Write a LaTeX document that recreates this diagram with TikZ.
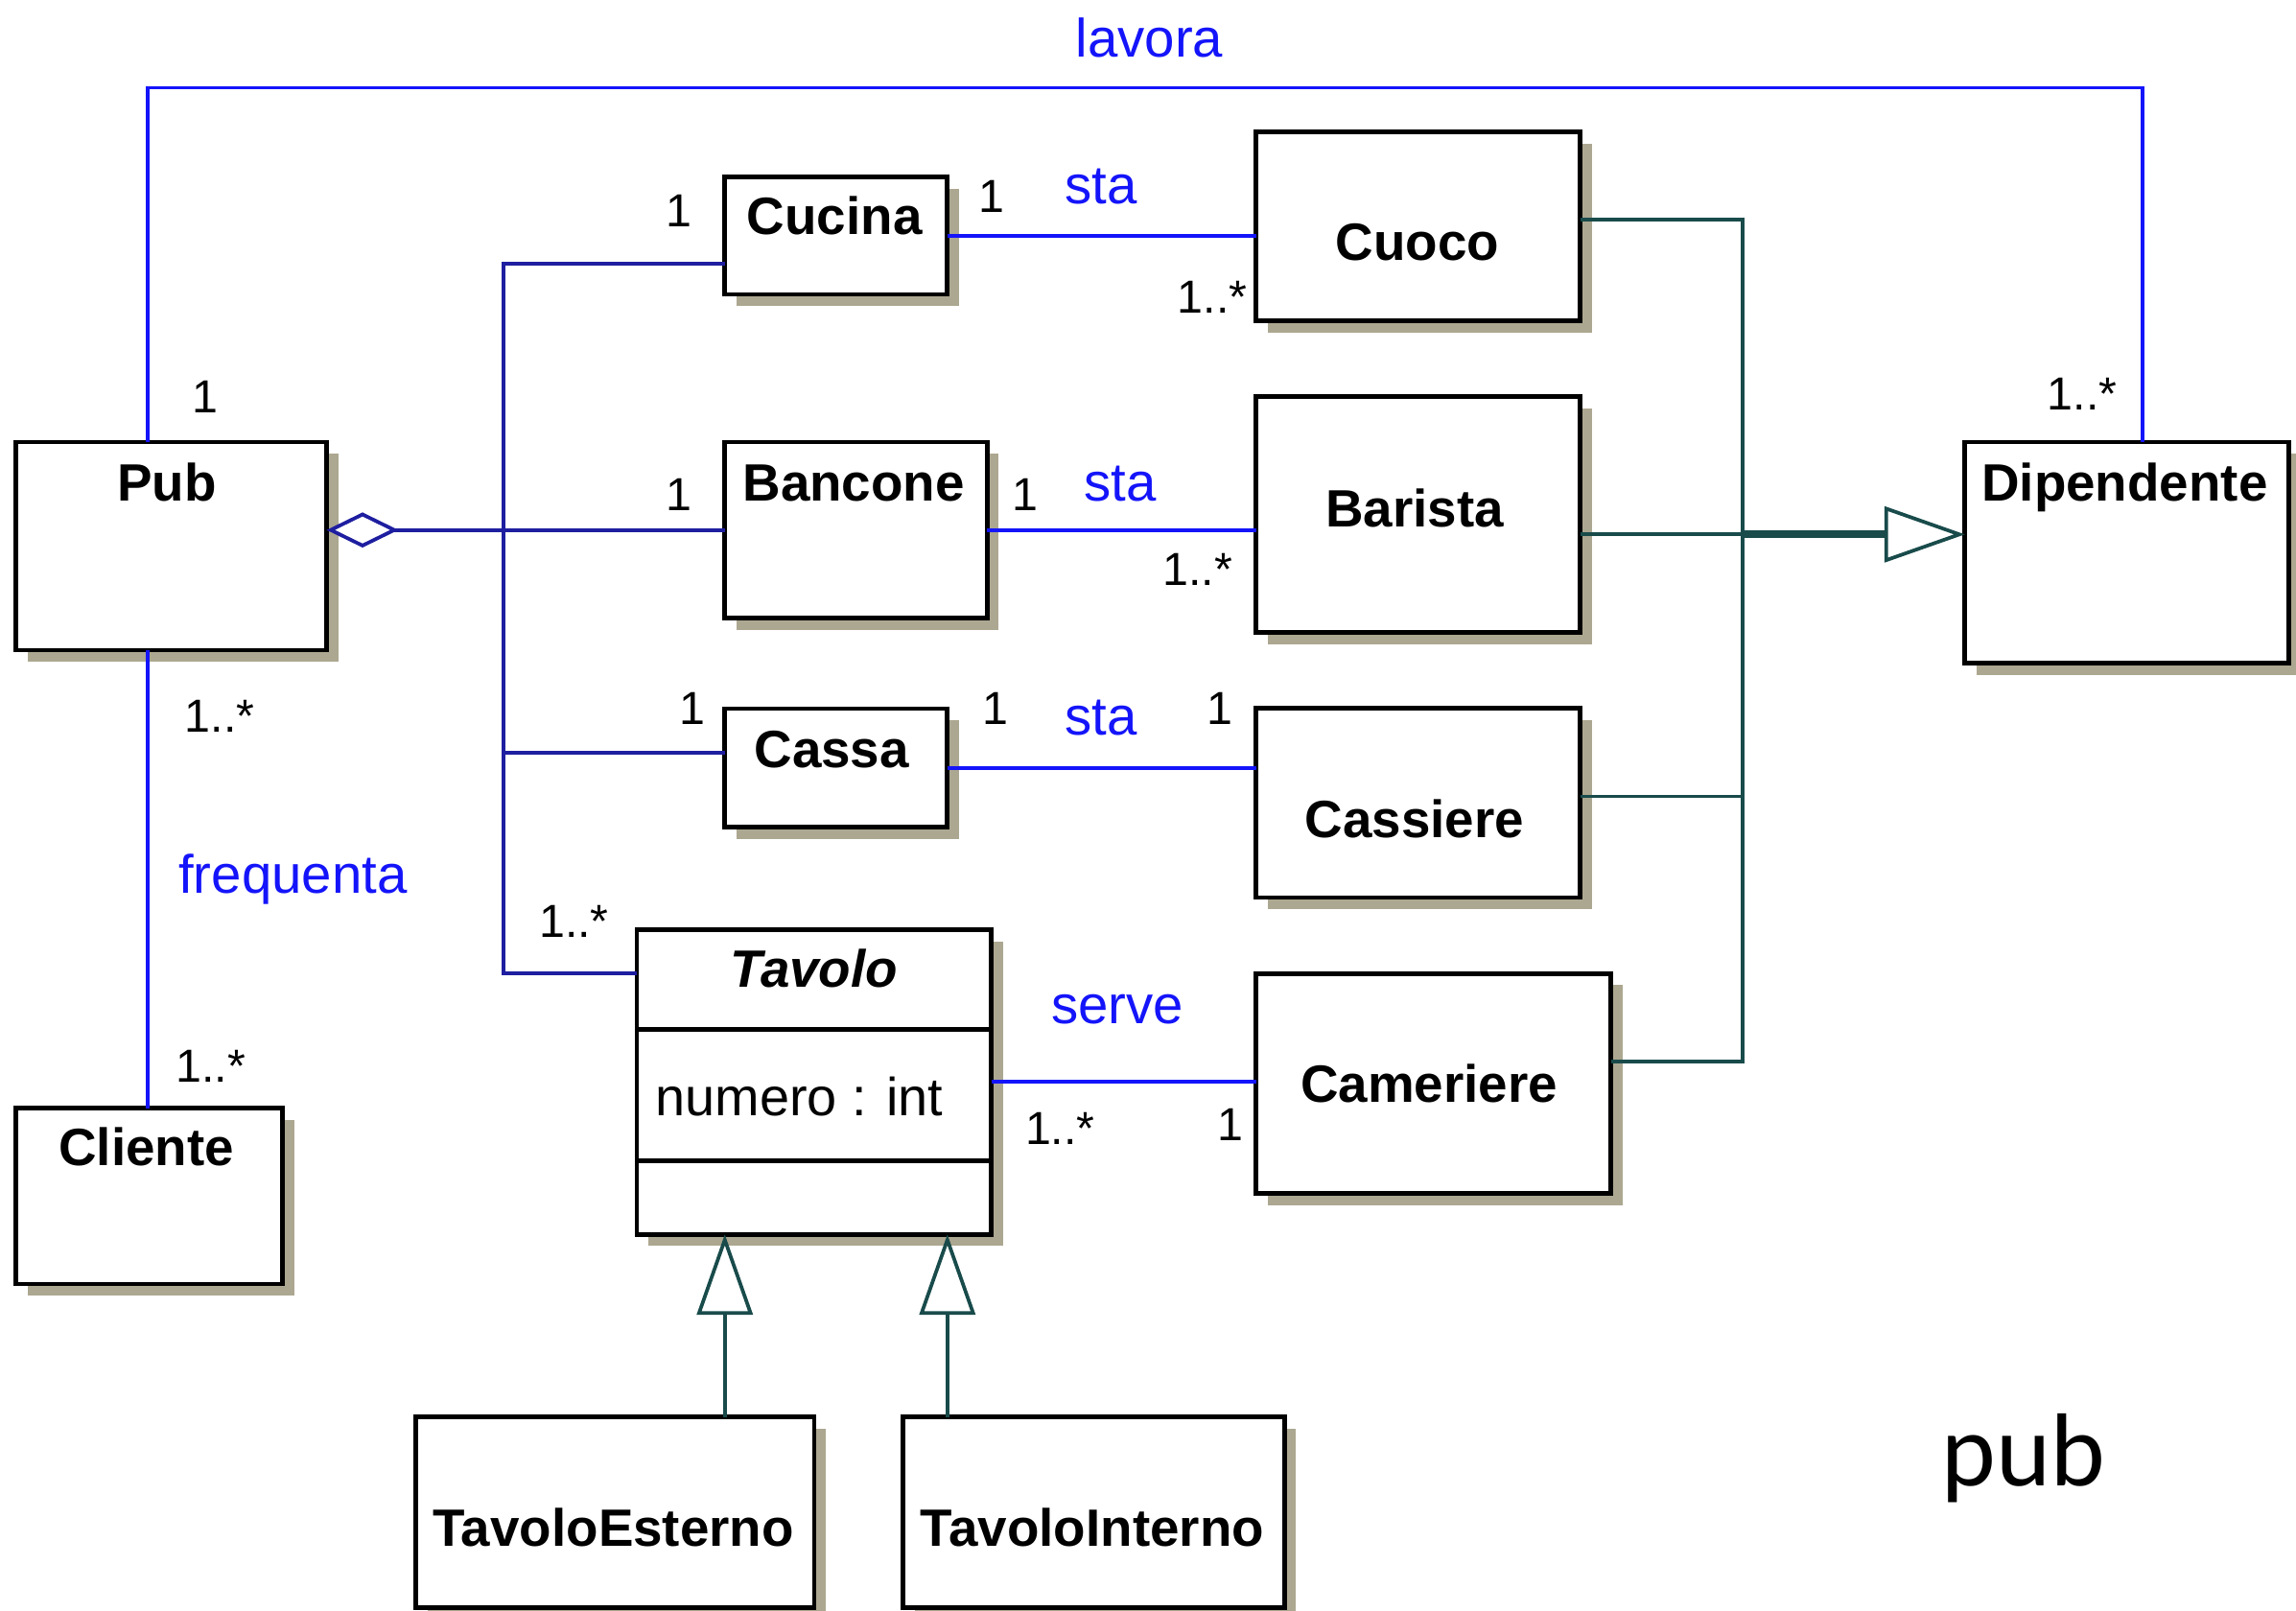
\documentclass[tikz,border=0pt]{standalone}
\usepackage{fontspec}
\setmainfont{Liberation Sans}
\newfontfamily\pubfont{Lato}
\usetikzlibrary{arrows.meta,shadows}
\definecolor{assocblue}{RGB}{20,20,250}
\definecolor{aggblue}{RGB}{30,30,160}
\definecolor{gencol}{RGB}{25,75,75}
\definecolor{shadowtan}{RGB}{172,167,144}
\begin{document}
\begin{tikzpicture}[x=0.01cm,y=-0.01cm,
  cls/.style={draw=black, line width=0.9pt, fill=white, inner sep=0pt, outer sep=0pt,
    drop shadow={shadow xshift=0.08cm, shadow yshift=-0.08cm, fill=shadowtan, opacity=1}},
  agg/.style={draw=aggblue, line width=0.7pt},
  assoc/.style={draw=assocblue, line width=0.7pt},
  gen/.style={draw=gencol, line width=0.7pt},
  gentip/.style={-{Triangle[open, fill=white, length=0.55cm, width=0.38cm, line width=0.7pt]}},
  cname/.style={font=\fontsize{10.2}{12}\selectfont\bfseries, anchor=base, inner sep=0pt},
  attr/.style={font=\fontsize{10.4}{12}\selectfont, anchor=base west, inner sep=0pt},
  mult/.style={font=\fontsize{9}{10}\selectfont, anchor=base, inner sep=0pt},
  alab/.style={font=\fontsize{10.5}{12}\selectfont, text=assocblue, anchor=base, inner sep=0pt}
]
\useasboundingbox (0,0) rectangle (1568,1100);

% class boxes
\node[cls, minimum width=2.12cm, minimum height=1.42cm] (pub) at (117,373) {};
\node[cls, minimum width=1.52cm, minimum height=0.80cm] (cucina) at (571,161) {};
\node[cls, minimum width=1.79cm, minimum height=1.20cm] (bancone) at (584.5,362) {};
\node[cls, minimum width=1.52cm, minimum height=0.81cm] (cassa) at (571,524.5) {};
\node[cls, minimum width=2.42cm, minimum height=2.08cm] (tavolo) at (556,739) {};
\node[cls, minimum width=2.21cm, minimum height=1.29cm] (cuoco) at (968.5,154.5) {};
\node[cls, minimum width=2.21cm, minimum height=1.61cm] (barista) at (968.5,351.5) {};
\node[cls, minimum width=2.21cm, minimum height=1.29cm] (cassiere) at (968.5,548.5) {};
\node[cls, minimum width=2.42cm, minimum height=1.50cm] (cameriere) at (979,740) {};
\node[cls, minimum width=2.21cm, minimum height=1.51cm] (dipendente) at (1452.5,377.5) {};
\node[cls, minimum width=1.82cm, minimum height=1.20cm] (cliente) at (102,817) {};
\node[cls, minimum width=2.72cm, minimum height=1.30cm] (testerno) at (420,1033) {};
\node[cls, minimum width=2.60cm, minimum height=1.30cm] (tinterno) at (747,1033) {};

% Tavolo compartments
\draw[line width=0.9pt] ([yshift=-0.68cm]tavolo.north west) -- ([yshift=-0.68cm]tavolo.north east);
\draw[line width=0.9pt] ([yshift=-1.58cm]tavolo.north west) -- ([yshift=-1.58cm]tavolo.north east);

% class names
\node[cname] (tpub) at (114,342) {Pub};
\node[cname] (tcucina) at (570,160) {Cucina};
\node[cname] (tbancone) at (583,342) {Bancone};
\node[cname] (tcassa) at (568,524) {Cassa};
\node[cname, font=\fontsize{10.2}{12}\selectfont\bfseries\itshape] (ttavolo) at (556,674) {Tavolo};
\node[attr] (tnumero) at (447,762) {numero : int};
\node[cname] (tcuoco) at (968,178) {Cuoco};
\node[cname] (tbarista) at (966,360) {Barista};
\node[cname] (tcassiere) at (966,572) {Cassiere};
\node[cname] (tcameriere) at (976,753) {Cameriere};
\node[cname] (tdipendente) at (1451,342) {Dipendente};
\node[cname] (tcliente) at (100,796) {Cliente};
\node[cname] (ttesterno) at (419,1056) {TavoloEsterno};
\node[cname] (ttinterno) at (746,1056) {TavoloInterno};

% lavora association
\coordinate (lavL) at (101,60);
\coordinate (lavR) at (1463,60);
\draw[assoc] (pub.north -| lavL) -- (lavL) -- (lavR) -- (dipendente.north -| lavR);
\node[alab] (llavora) at (785,39) {lavora};
\node[mult] (m1) at (140,282) {1};
\node[mult] (m2) at (1422,280) {1..*};

% frequenta association
\draw[assoc] (pub.south -| lavL) -- (cliente.north -| lavL);
\node[alab] (lfreq) at (200,610) {frequenta};
\node[mult] (m3) at (150,500) {1..*};
\node[mult] (m4) at (144,739) {1..*};

% aggregation
\coordinate (trT) at (344,180);
\coordinate (trC) at (344,514);
\coordinate (trB) at (344,665);
\draw[agg, {Diamond[open, fill=white, length=0.49cm, width=0.24cm, line width=0.7pt]}-] (pub.east |- bancone.west) -- (bancone.west);
\draw[agg] (cucina.west |- trT) -- (trT) -- (trB) -- (tavolo.west |- trB);
\draw[agg] (trC) -- (cassa.west |- trC);
\node[mult] (m5) at (464,155) {1};
\node[mult] (m6) at (464,349) {1};
\node[mult] (m7) at (473,495) {1};
\node[mult] (m8) at (392,640) {1..*};

% sta / serve associations
\draw[assoc] (cucina.east) -- (cuoco.west |- cucina.east);
\node[alab] (lsta1) at (752,139) {sta};
\node[mult] (m9) at (677,145) {1};
\node[mult] (m10) at (828,214) {1..*};

\draw[assoc] (bancone.east) -- (barista.west |- bancone.east);
\node[alab] (lsta2) at (765,342) {sta};
\node[mult] (m11) at (700,349) {1};
\node[mult] (m12) at (818,400) {1..*};

\draw[assoc] (cassa.east) -- (cassiere.west |- cassa.east);
\node[alab] (lsta3) at (752,502) {sta};
\node[mult] (m13) at (680,495) {1};
\node[mult] (m14) at (833,495) {1};

\draw[assoc] (tavolo.east) -- (cameriere.west |- tavolo.east);
\node[alab] (lserve) at (763,699) {serve};
\node[mult] (m15) at (724,782) {1..*};
\node[mult] (m16) at (840,779) {1};

% generalization to Dipendente
\coordinate (gT) at (1190,150);
\coordinate (gM) at (1190,365);
\coordinate (gC) at (1190,544);
\coordinate (gB) at (1190,725);
\draw[gen] (cuoco.east |- gT) -- (gT) -- (gB) -- (cameriere.east |- gB);
\draw[gen] (barista.east |- gM) -- (gM);
\draw[gen] (cassiere.east |- gC) -- (gC);
\draw[gen, line width=1.5pt, gentip] (gM) -- (dipendente.west |- gM);

% generalization to Tavolo
\coordinate (gE) at (495,900);
\coordinate (gI) at (647,900);
\draw[gen, gentip] (testerno.north -| gE) -- (tavolo.south -| gE);
\draw[gen, gentip] (tinterno.north -| gI) -- (tavolo.south -| gI);

% caption
\node[font=\pubfont\fontsize{19}{22}\selectfont, anchor=base, inner sep=0pt] (caption) at (1382,1015) {pub};
\end{tikzpicture}
\end{document}
